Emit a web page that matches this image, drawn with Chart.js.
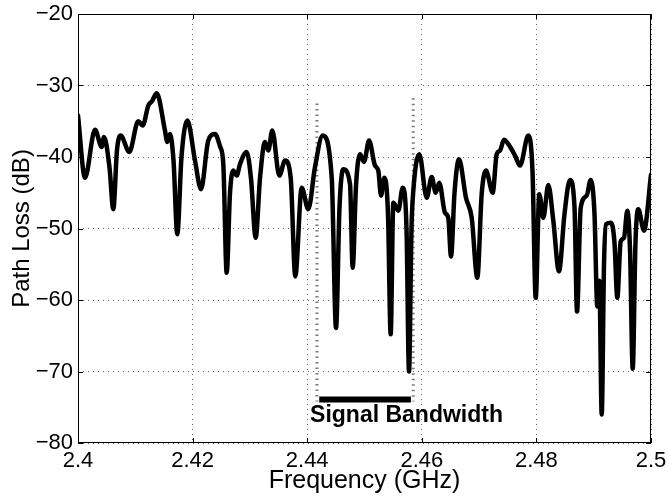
<!DOCTYPE html>
<html>
<head>
<meta charset="utf-8">
<script src="https://cdn.jsdelivr.net/npm/chart.js@4/dist/chart.umd.min.js"></script>
<style>
  html, body { margin: 0; padding: 0; background: #fff; }
  #wrap { width: 668px; height: 497px; }
</style>
</head>
<body>
<div id="wrap"><canvas id="lossChart" width="668" height="497"></canvas></div>
<script>
// Frecuencias (GHz) y pérdidas (dB)
const freqs = [
  2.40000, 2.40122, 2.40297, 2.40414, 2.40454, 2.40550, 2.40616, 2.40681, 2.40745, 2.40895,
  2.41052, 2.41129, 2.41227, 2.41291, 2.41373, 2.41518, 2.41558, 2.41606, 2.41667, 2.41733,
  2.41806, 2.41908, 2.42042, 2.42147, 2.42274, 2.42391, 2.42478, 2.42536, 2.42595, 2.42653,
  2.42710, 2.42770, 2.42827, 2.42944, 2.43019, 2.43101, 2.43176, 2.43263, 2.43321, 2.43391,
  2.43513, 2.43613, 2.43712, 2.43792, 2.43904, 2.44019, 2.44136, 2.44271, 2.44428, 2.44503,
  2.44564, 2.44630, 2.44747, 2.44794, 2.44852, 2.44921, 2.44991, 2.45079, 2.45183, 2.45241,
  2.45288, 2.45346, 2.45410, 2.45457, 2.45503, 2.45590, 2.45667, 2.45733, 2.45777, 2.45820,
  2.45852, 2.45956, 2.46086, 2.46173, 2.46243, 2.46305, 2.46405, 2.46462, 2.46510, 2.46571,
  2.46649, 2.46771, 2.46871, 2.46969, 2.47045, 2.47120, 2.47237, 2.47307, 2.47365, 2.47435,
  2.47510, 2.47627, 2.47714, 2.47859, 2.47932, 2.47988, 2.48051, 2.48120, 2.48208, 2.48295,
  2.48394, 2.48490, 2.48586, 2.48665, 2.48709, 2.48773, 2.48878, 2.48948, 2.49014, 2.49063,
  2.49098, 2.49140, 2.49180, 2.49215, 2.49302, 2.49363, 2.49412, 2.49471, 2.49529, 2.49586,
  2.49634, 2.49681, 2.49729, 2.49778, 2.49878, 2.50000
];
const pathLoss = [
  -34.2, -42.9, -36.2, -38.6, -37.2, -41.5, -47.3, -39.0, -37.0, -39.3,
  -35.0, -35.6, -32.8, -32.2, -31.1, -36.3, -37.9, -36.8, -40.5, -50.8,
  -40.0, -34.9, -40.5, -44.5, -37.7, -36.8, -38.5, -41.0, -56.2, -45.0,
  -41.9, -42.6, -41.0, -39.3, -43.0, -51.3, -43.0, -37.9, -39.1, -36.3,
  -42.6, -40.5, -42.9, -56.7, -44.3, -47.3, -41.4, -37.0, -42.9, -63.9,
  -47.0, -41.7, -43.8, -55.5, -44.0, -39.6, -40.7, -37.7, -41.2, -41.9,
  -45.4, -42.9, -48.0, -64.8, -46.4, -47.5, -44.3, -50.0, -70.0, -50.0,
  -44.7, -39.6, -45.7, -42.8, -45.0, -43.6, -47.8, -48.5, -53.9, -45.0,
  -40.3, -45.7, -48.5, -56.9, -45.2, -41.9, -45.0, -39.6, -39.1, -37.6,
  -38.2, -39.8, -41.2, -37.0, -42.0, -59.7, -45.2, -48.5, -43.9, -48.9,
  -56.0, -48.0, -43.2, -47.0, -61.6, -47.1, -45.4, -43.2, -48.0, -60.9,
  -57.3, -76.0, -55.0, -49.4, -49.2, -52.0, -59.7, -51.8, -51.3, -47.5,
  -53.0, -69.6, -52.0, -47.3, -50.3, -42.5
];

// Marcas del ancho de banda de la señal
const bandEdges = [2.4417, 2.4585];
const bandEdgeTops = [-32.5, -31.8];
const bandEdgeBottom = -74.2;
const bandBar = [2.4421, 2.4581];
const bandBarLevel = -73.9;
const bandLabel = "Signal Bandwidth";
const bandLabelPos = [2.4405, -77.1];

// Ticks de los ejes
const xTicks = [2.4, 2.42, 2.44, 2.46, 2.48, 2.5];
const yTicks = [-80, -70, -60, -50, -40, -30, -20];

const FONT = "'Liberation Sans', Arial, Helvetica, sans-serif";

const lossPoints = freqs.map((f, i) => ({ x: f, y: pathLoss[i] }));

// Dibuja el marco, las marcas interiores y la etiqueta de ancho de banda
const framePlugin = {
  id: "frame",
  afterDraw(chart) {
    const { ctx, chartArea: a, scales } = chart;
    ctx.save();
    ctx.strokeStyle = "#000";
    ctx.lineWidth = 1;
    ctx.strokeRect(Math.round(a.left) + 0.5, Math.round(a.top) + 0.5,
      Math.round(a.right - a.left) - 1, Math.round(a.bottom - a.top) - 1);
    ctx.beginPath();
    const tl = 5;
    xTicks.forEach((v) => {
      const px = Math.round(scales.x.getPixelForValue(v)) + 0.5;
      ctx.moveTo(px, a.bottom); ctx.lineTo(px, a.bottom - tl);
      ctx.moveTo(px, a.top); ctx.lineTo(px, a.top + tl);
    });
    yTicks.forEach((v) => {
      const py = Math.round(scales.y.getPixelForValue(v)) + 0.5;
      ctx.moveTo(a.left, py); ctx.lineTo(a.left + tl, py);
      ctx.moveTo(a.right, py); ctx.lineTo(a.right - tl, py);
    });
    ctx.stroke();
    ctx.fillStyle = "#000";
    ctx.font = "bold 23px " + FONT;
    ctx.textAlign = "left";
    ctx.textBaseline = "alphabetic";
    ctx.fillText(bandLabel, scales.x.getPixelForValue(bandLabelPos[0]),
      scales.y.getPixelForValue(bandLabelPos[1]));
    ctx.restore();
  }
};

new Chart(document.getElementById("lossChart"), {
  type: "line",
  data: {
    datasets: [
      {
        data: lossPoints,
        borderColor: "#000",
        borderWidth: 4.5,
        pointRadius: 0,
        cubicInterpolationMode: "monotone",
        borderJoinStyle: "round",
        borderCapStyle: "round",
        fill: false
      },
      {
        data: [{ x: bandEdges[0], y: bandEdgeTops[0] }, { x: bandEdges[0], y: bandEdgeBottom }],
        borderColor: "#7a7a7a",
        borderWidth: 3,
        borderDash: [1.5, 4],
        pointRadius: 0
      },
      {
        data: [{ x: bandEdges[1], y: bandEdgeTops[1] }, { x: bandEdges[1], y: bandEdgeBottom }],
        borderColor: "#7a7a7a",
        borderWidth: 3,
        borderDash: [1.5, 4],
        pointRadius: 0
      },
      {
        data: [{ x: bandBar[0], y: bandBarLevel }, { x: bandBar[1], y: bandBarLevel }],
        borderColor: "#000",
        borderWidth: 6,
        borderCapStyle: "butt",
        pointRadius: 0
      }
    ]
  },
  options: {
    responsive: false,
    animation: false,
    layout: { padding: { top: 14, right: 17, left: 0, bottom: 0 } },
    plugins: { legend: { display: false }, tooltip: { enabled: false } },
    scales: {
      x: {
        type: "linear",
        min: 2.4,
        max: 2.5,
        afterFit(s) { s.height = 54; s.paddingLeft = 0; s.paddingRight = 0; },
        afterBuildTicks(s) { s.ticks = xTicks.map((v) => ({ value: v })); },
        ticks: {
          color: "#000",
          padding: 5,
          maxRotation: 0,
          font: { family: FONT, size: 22 },
          callback: (v) => String(Number(v.toFixed(2)))
        },
        grid: { color: "rgba(0,0,0,0.6)", lineWidth: 1, drawTicks: false, tickLength: 0 },
        border: { display: false, dash: [1, 4] },
        title: {
          display: true,
          text: "Frequency (GHz)",
          color: "#000",
          font: { family: FONT, size: 25 },
          padding: { top: 0, bottom: 1 }
        }
      },
      y: {
        min: -80,
        max: -20,
        afterFit(s) { s.width = 78; s.paddingTop = 0; s.paddingBottom = 0; },
        afterBuildTicks(s) { s.ticks = yTicks.map((v) => ({ value: v })); },
        ticks: {
          color: "#000",
          padding: 5,
          font: { family: FONT, size: 22 },
          callback: (v) => (v < 0 ? "\u2212" + Math.abs(v) : String(v))
        },
        grid: { color: "rgba(0,0,0,0.6)", lineWidth: 1, drawTicks: false, tickLength: 0 },
        border: { display: false, dash: [1, 4] },
        title: {
          display: true,
          text: "Path Loss (dB)",
          color: "#000",
          font: { family: FONT, size: 24 },
          padding: { top: 8, bottom: 0 }
        }
      }
    }
  },
  plugins: [framePlugin]
});
</script>
</body>
</html>
